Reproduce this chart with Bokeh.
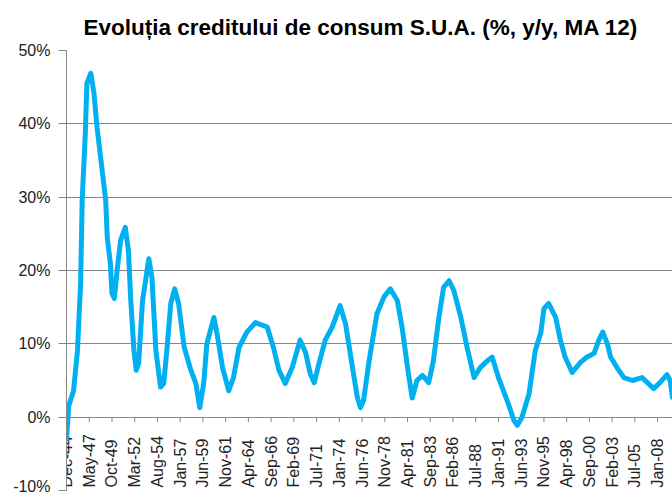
import numpy as np
from bokeh.plotting import figure
from bokeh.models import FixedTicker, PrintfTickFormatter
from bokeh.core.properties import value
from bokeh.embed import file_html
from bokeh.resources import INLINE

title_text = "Evoluția creditului de consum S.U.A. (%, y/y, MA 12)"

# months since Dec-1944 (category index) and the 12-month average growth, %
month_index = [0, 3, 9, 14, 18, 20, 24, 26, 31, 35, 39, 46, 50, 52, 56, 58, 61, 65, 69, 75,
               79, 82, 86, 89, 92, 97, 105, 109, 114, 120, 124, 128, 133, 138, 143, 150, 158, 165, 170, 175,
               179, 188, 192, 199, 207, 213, 220, 230, 241, 256, 264, 271, 279, 288, 298, 305, 311, 316, 322, 330,
               339, 349, 356, 364, 371, 375, 379, 386, 396, 405, 413, 422, 428, 435, 441, 447, 454, 462, 468, 475,
               481, 488, 494, 503, 511, 520, 528, 537, 543, 551, 562, 571, 575, 581, 590, 598, 605, 609, 615, 624,
               630, 636, 645, 656, 664, 673, 679, 684, 690, 694, 702, 711, 722, 734, 741, 749, 757, 766, 770, 773]
growth_pct = [-3.0, 1.6, 3.6, 9.1, 18.2, 29.6, 38.7, 45.5, 46.9, 44.2, 39.5, 33.2, 29.6, 24.5, 20.9, 16.9, 16.2, 20.4, 24.1, 25.9,
              22.7, 15.9, 9.1, 6.4, 7.3, 15.9, 21.6, 19.1, 9.1, 4.1, 4.6, 9.1, 15.5, 17.5, 15.5, 9.6, 6.6, 4.6, 1.3, 4.6,
              10.0, 13.6, 11.4, 6.8, 3.6, 5.4, 9.5, 11.6, 12.9, 12.3, 9.5, 6.4, 4.6, 6.8, 10.5, 8.8, 5.9, 4.7, 7.3, 10.5,
              12.3, 15.2, 12.7, 7.3, 2.7, 1.3, 2.3, 7.7, 14.1, 16.4, 17.5, 15.9, 12.3, 6.8, 2.6, 5.0, 5.7, 4.7, 7.7, 13.6,
              17.7, 18.6, 17.3, 13.6, 9.5, 5.4, 6.8, 7.7, 8.2, 5.4, 2.3, -0.5, -1.1, 0.0, 3.2, 9.1, 11.5, 14.8, 15.5, 13.6,
              10.5, 8.2, 6.1, 7.5, 8.2, 8.7, 10.5, 11.6, 10.0, 8.2, 6.8, 5.4, 5.0, 5.4, 4.7, 3.9, 4.7, 5.8, 5.0, 2.7]

tick_labels = ["Dec-44", "May-47", "Oct-49", "Mar-52", "Aug-54", "Jan-57", "Jun-59", "Nov-61", "Apr-64",
               "Sep-66", "Feb-69", "Jul-71", "Jan-74", "Jun-76", "Nov-78", "Apr-81", "Sep-83", "Feb-86",
               "Jul-88", "Jan-91", "Jun-93", "Nov-95", "Apr-98", "Sep-00", "Feb-03", "Jul-05", "Jan-08"]
label_every = 29
y_ticks = [-10, 0, 10, 20, 30, 40, 50]

y_min, y_max = -10, 50
x_end = 773

p = figure(width=672, height=494, x_range=(0, x_end), y_range=(y_min, y_max),
           x_axis_type=None, output_backend="svg", toolbar_location=None,
           min_border_left=66, min_border_right=0, min_border_top=50, min_border_bottom=4)
p.outline_line_color = None
p.background_fill_color = "white"
p.border_fill_color = "white"

p.title.text = title_text
p.title.text_font = "Liberation Sans"
p.title.text_font_size = "22.5px"
p.title.text_font_style = "bold"
p.title.text_color = "black"
p.title.align = "left"
p.title.offset = 17
p.title.standoff = 21

ax = p.yaxis[0]
ax.ticker = FixedTicker(ticks=y_ticks)
ax.formatter = PrintfTickFormatter(format="%d%%")
ax.major_tick_in = 0
ax.major_tick_out = 8
ax.minor_tick_in = 0
ax.minor_tick_out = 0
ax.axis_line_color = "#868686"
ax.major_tick_line_color = "#868686"
ax.major_label_text_font = "Liberation Sans"
ax.major_label_text_font_size = "16px"
ax.major_label_text_color = "#222222"
ax.major_label_standoff = 8

p.ygrid.grid_line_color = "#868686"
p.ygrid.grid_line_width = 1

tick_x = [i * label_every for i in range(len(tick_labels))]
tick_len = 0.7
p.segment(x0=tick_x, y0=[0] * len(tick_x), x1=tick_x, y1=[-tick_len] * len(tick_x),
          line_color="#868686", line_width=1)

p.text(x=tick_x, y=[y_min + 0.4] * len(tick_x), text=tick_labels, angle=np.pi / 2,
       text_align="left", text_baseline="middle",
       text_font=value("Liberation Sans"), text_font_size="16px", text_color="#222222")

p.line(month_index, growth_pct, line_color="#00B0F0", line_width=5,
       line_join="round", line_cap="round")

open("out.html", "w").write(file_html(p, INLINE))
